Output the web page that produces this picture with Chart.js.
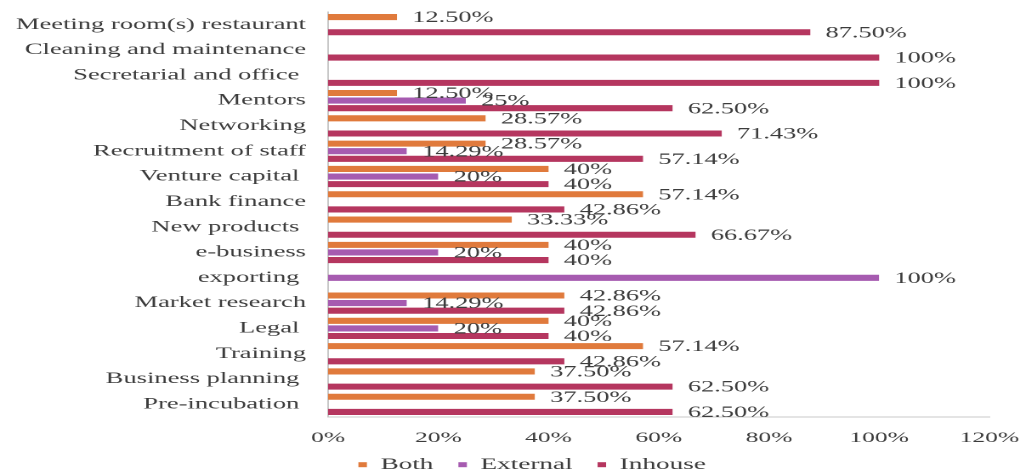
<!DOCTYPE html>
<html lang="en">
<head>
<meta charset="UTF-8" />
<title>Support services – Both / External / Inhouse</title>
<script src="https://cdn.jsdelivr.net/npm/chart.js"></script>
<style>
  html, body { margin: 0; padding: 0; background: #fff; overflow: hidden; }
  /* the source figure is stretched sideways, so draw narrow and widen it */
  #wrap {
    position: absolute; left: 0; top: 0;
    width: 605px; height: 475px;
    transform: scaleX(1.7); transform-origin: 0 0;
  }
</style>
</head>
<body>
<div id="wrap"><canvas id="chart"></canvas></div>
<script>
  // categories top to bottom (trailing spaces are in the source labels)
  const categories = [
    'Meeting room(s) restaurant', 'Cleaning and maintenance', 'Secretarial and office ',
    'Mentors', 'Networking', 'Recruitment of staff', 'Venture capital ', 'Bank finance',
    'New products ', 'e-business', 'exporting ', 'Market research', 'Legal ',
    'Training', 'Business planning ', 'Pre-incubation '
  ];
  const both     = [12.5, 0, 0, 12.5, 28.57, 28.57, 40, 57.14, 33.33, 40, 0, 42.86, 40, 57.14, 37.5, 37.5];
  const external = [0, 0, 0, 25, 0, 14.29, 20, 0, 0, 20, 100, 14.29, 20, 0, 0, 0];
  const inhouse  = [87.5, 100, 100, 62.5, 71.43, 57.14, 40, 42.86, 66.67, 40, 0, 42.86, 40, 42.86, 62.5, 62.5];
  const seriesNames = ['Both', 'External', 'Inhouse'];
  const xMax = 120, xStep = 20;

  const serif = '"Liberation Serif", "Times New Roman", serif';
  const textColor = '#3c3c3c';

  function fmt(v) {
    return (Number.isInteger(v) ? v : v.toFixed(2)) + '%';
  }

  // value labels at the bar ends, external ones on a white box like the original
  const barLabels = {
    id: 'barLabels',
    afterDatasetsDraw(chart) {
      const ctx = chart.ctx;
      ctx.save();
      ctx.font = '15.5px ' + serif;
      ctx.textBaseline = 'middle';
      ctx.textAlign = 'left';
      [1, 0, 2].forEach(di => {
        const meta = chart.getDatasetMeta(di);
        const data = chart.data.datasets[di].data;
        meta.data.forEach((bar, i) => {
          const v = data[i];
          if (!v) return;
          const txt = fmt(v);
          if (di === 1) {
            ctx.fillStyle = '#fff';
            ctx.fillRect(bar.x, bar.y - 4, ctx.measureText(txt).width + 12, 8);
          }
          ctx.fillStyle = textColor;
          ctx.fillText(txt, bar.x + 9, bar.y + 1);
        });
      });
      ctx.restore();
    }
  };

  // short legend box in the layout, then moved to where the original has it
  const legendFit = {
    id: 'legendFit',
    beforeLayout(chart) {
      const lg = chart.legend;
      if (!lg || lg._patched) return;
      const fit = lg.fit;
      lg.fit = function () { fit.call(this); this.height = 28; };
      lg._patched = true;
    },
    afterLayout(chart) {
      const lg = chart.legend;
      if (!lg) return;
      lg.top = 442;
      lg.bottom = chart.height;
      lg.height = lg.bottom - lg.top;
      lg.left += 22;
      lg.right += 22;
    }
  };

  const colors = ['#E07A3C', '#A65BB0', '#B5365F'];

  new Chart(document.getElementById('chart'), {
    type: 'bar',
    data: {
      labels: categories,
      datasets: [both, external, inhouse].map((d, k) => ({
        label: seriesNames[k],
        data: d,
        backgroundColor: colors[k],
        borderWidth: 0,
        categoryPercentage: 0.9,
        barPercentage: 0.8
      }))
    },
    options: {
      indexAxis: 'y',
      responsive: true,
      maintainAspectRatio: false,
      devicePixelRatio: 2,
      animation: false,
      layout: { padding: { top: 12, right: 23, left: 0, bottom: 0 } },
      plugins: {
        tooltip: { enabled: false },
        legend: {
          position: 'bottom',
          labels: {
            boxWidth: 5, boxHeight: 5, padding: 14.7,
            color: textColor,
            font: { family: serif, size: 16 }
          }
        }
      },
      scales: {
        x: {
          min: 0, max: xMax,
          grid: { display: false, drawTicks: false },
          border: { display: true, color: '#c8c8c8' },
          ticks: {
            stepSize: xStep, padding: 12, color: textColor,
            font: { family: serif, size: 15 },
            callback: v => v + '%'
          },
          afterFit: s => { s.height = 30; s.paddingLeft = 0; s.paddingRight = 0; }
        },
        y: {
          grid: { display: false, drawTicks: false },
          border: { display: true, color: '#c8c8c8' },
          ticks: {
            padding: 13, color: textColor, autoSkip: false,
            font: { family: serif, size: 15.6 }
          },
          afterFit: s => { s.width = 193; s.paddingTop = 0; s.paddingBottom = 0; }
        }
      }
    },
    plugins: [barLabels, legendFit]
  });
</script>
</body>
</html>
